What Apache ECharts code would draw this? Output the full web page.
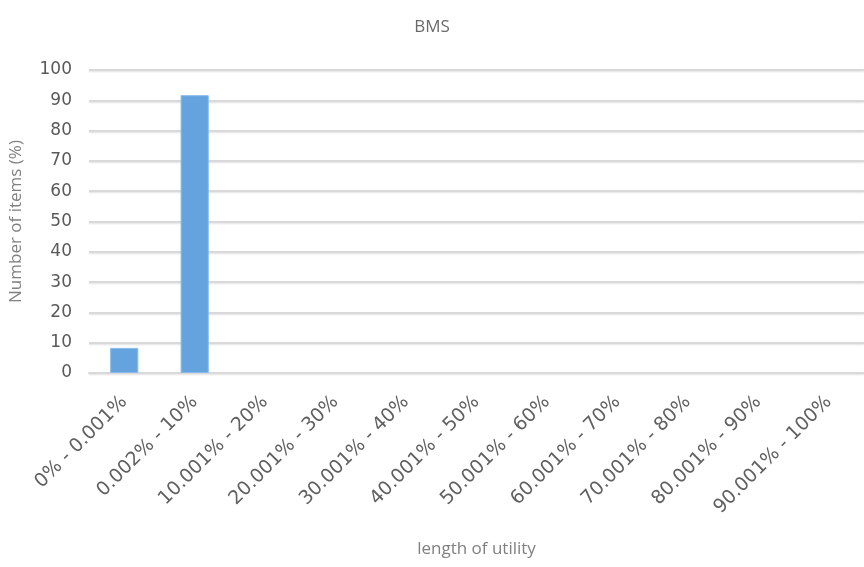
<!DOCTYPE html>
<html>
<head>
<meta charset="utf-8">
<script src="https://cdn.jsdelivr.net/npm/echarts@6/dist/echarts.min.js"></script>
<style>
  html, body { margin: 0; padding: 0; background: #fff; }
  #chart { width: 864px; height: 567px; }
</style>
</head>
<body>
<div id="chart"></div>
<script>
// Utility-length buckets and share of items in each bucket (%)
const categories = [
  '0% - 0.001%', '0.002% - 10%', '10.001% - 20%', '20.001% - 30%',
  '30.001% - 40%', '40.001% - 50%', '50.001% - 60%', '60.001% - 70%',
  '70.001% - 80%', '80.001% - 90%', '90.001% - 100%'
];
const itemShare = [8.3, 91.7, 0, 0, 0, 0, 0, 0, 0, 0, 0];
const yTicks = [0, 10, 20, 30, 40, 50, 60, 70, 80, 90, 100];

// empty buckets get no outline so nothing shows on the baseline
const barData = itemShare.map(v => ({
  value: v,
  itemStyle: { borderWidth: v > 0 ? 1 : 0 }
}));

const chart = echarts.init(document.getElementById('chart'));
chart.setOption({
  animation: false,
  title: {
    text: 'BMS',
    left: 'center',
    top: 14,
    textStyle: { fontFamily: 'Open Sans', fontWeight: 'normal', fontSize: 17, color: '#6a6a6a' }
  },
  grid: { left: 87, right: 0, top: 70, bottom: 194 },
  xAxis: {
    type: 'category',
    data: categories,
    name: 'length of utility',
    nameLocation: 'middle',
    nameGap: 168,
    nameTextStyle: { fontFamily: 'Open Sans', fontSize: 17, color: '#808080' },
    axisTick: { show: false },
    axisLine: { show: true, lineStyle: { color: '#d9d9d9', width: 2 } },
    axisLabel: {
      rotate: 45,
      interval: 0,
      margin: 26,
      fontFamily: 'DejaVu Sans',
      fontSize: 19,
      color: '#606060'
    }
  },
  yAxis: {
    type: 'value',
    min: yTicks[0],
    max: yTicks[yTicks.length - 1],
    interval: 10,
    name: 'Number of items (%)',
    nameLocation: 'middle',
    nameGap: 64,
    nameTextStyle: { fontFamily: 'Open Sans', fontSize: 17, color: '#808080' },
    axisLine: { show: false },
    axisTick: { show: false },
    axisLabel: {
      margin: 17,
      fontFamily: 'DejaVu Sans',
      fontSize: 17,
      color: '#595959'
    },
    splitLine: {
      lineStyle: { color: '#d9d9d9', width: 2, shadowColor: 'rgba(0,0,0,0.12)', shadowBlur: 2, shadowOffsetY: 1 }
    }
  },
  series: [{
    type: 'bar',
    data: barData,
    barWidth: '40%',
    itemStyle: {
      color: '#65a3df',
      borderColor: '#8dbbe8'
    }
  }]
});
</script>
</body>
</html>
